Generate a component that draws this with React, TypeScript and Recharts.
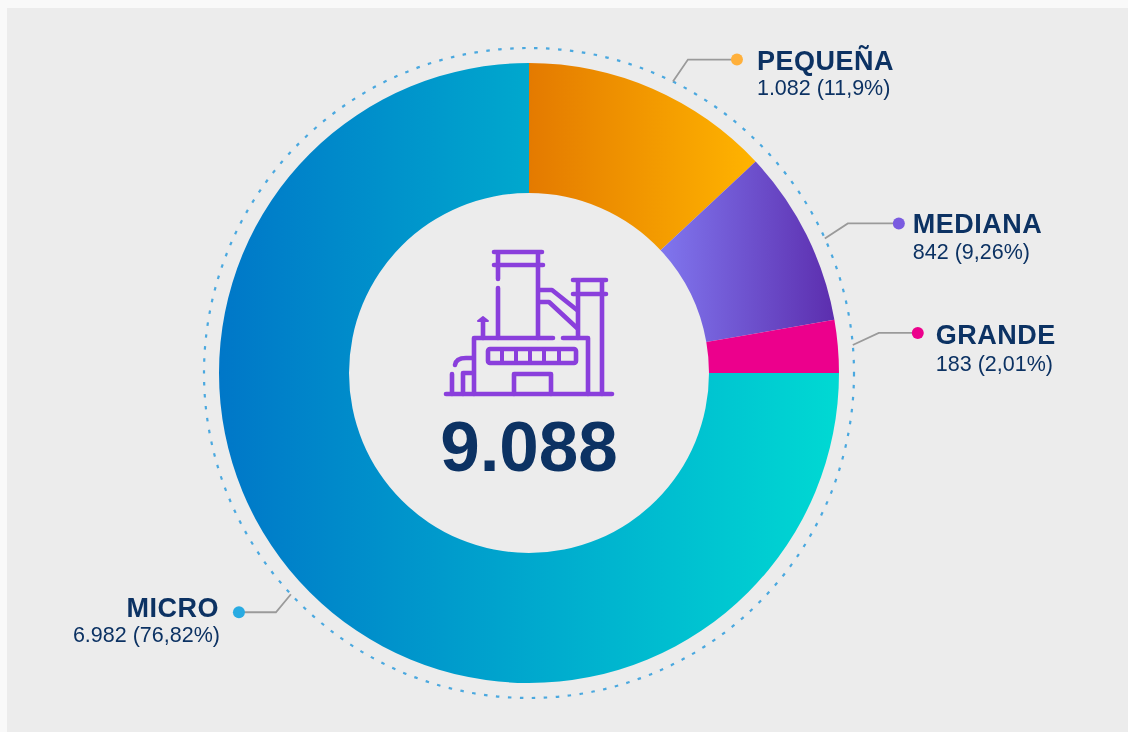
import React from 'react';
import { PieChart, Pie, Cell } from 'recharts';

// order is clockwise from 12 o'clock, as in the picture
const names = ['PEQUEÑA', 'MEDIANA', 'GRANDE', 'MICRO'];
// the label figures
const counts = ['1.082', '842', '183', '6.982'];
const percents = ['11,9%', '9,26%', '2,01%', '76,82%'];
// slice sizes as drawn in the picture (they differ a bit from the printed percentages)
const drawnShares = [13.05, 9.2, 2.75, 75];
const total = '9.088';

const data = names.map((name, i) => ({ name, value: drawnShares[i] }));

const NAVY = '#0c3263';
const PURPLE = '#8a3fdc';
const gradients = [
  ['#e47a00', '#ffb400'],
  ['#8076ee', '#5c2eae'],
  ['#ec008c', '#ec008c'],
  ['#0077c8', '#00d9d3'],
];
const dotColors = ['#ffb03b', '#7a5be0', '#ec008c', '#29abe2'];

const CX = 529;
const CY = 373;
const RING_R = 325;

// nudge: degrees clockwise off the slice's mid angle, ex/ey: elbow offset, run: line to the dot
// tx: text offset from the dot, t1/t2: baselines of the two text rows below the dot
const leaders = [
  { nudge: 2.8, ex: 15, ey: -22, run: 49, tx: 20, t1: 10.5, t2: 35 },
  { nudge: 2, ex: 23, ey: -15, run: 51, tx: 14, t1: 10, t2: 36 },
  { nudge: 0, ex: 26, ey: -12, run: 39, tx: 18, t1: 11, t2: 38 },
  { nudge: 2.1, ex: -15, ey: 18, run: -37, tx: -20, t1: 5, t2: 30 },
];

const renderLabel = (props: any) => {
  const { midAngle, index } = props;
  const l = leaders[index];
  const rad = ((midAngle - l.nudge) * Math.PI) / 180;
  const ax = CX + RING_R * Math.cos(rad);
  const ay = CY - RING_R * Math.sin(rad);
  const ex = ax + l.ex;
  const ey = ay + l.ey;
  const dx = ex + l.run;
  const right = l.run > 0;
  const anchor = right ? 'start' : 'end';
  const tx = dx + l.tx;
  return (
    <g key={names[index]}>
      <polyline points={`${ax},${ay} ${ex},${ey} ${dx},${ey}`} fill="none" stroke="#9a9a9a" strokeWidth={1.8} />
      <circle cx={dx} cy={ey} r={6} fill={dotColors[index]} />
      <text x={tx} y={ey + l.t1} textAnchor={anchor} fontSize={27} letterSpacing={0.5} fontWeight={700} fill={NAVY} fontFamily="Liberation Sans">
        {names[index]}
      </text>
      <text x={right ? tx : tx + 1} y={ey + l.t2} textAnchor={anchor} fontSize={21.5} fill={NAVY} fontFamily="Liberation Sans">
        {`${counts[index]} (${percents[index]})`}
      </text>
    </g>
  );
};

const FactoryIcon = () => (
  <g fill="none" stroke={PURPLE} strokeWidth={4.6} strokeLinecap="round" strokeLinejoin="round">
    <path d="M446 394H612" />
    {/* building */}
    <path d="M474 394V338H553M563 338H588V394" />
    <rect x={488} y={349} width={88} height={14} rx={2} />
    <path d="M502 349V363M516 349V363M530 349V363M544 349V363M559 349V363" strokeWidth={4} />
    <path d="M514 394V374H551V394" />
    {/* tall stack */}
    <path d="M494 252H542M494 265H543M498 252V279M498 288V338M538 252V338" />
    {/* short stack */}
    <path d="M573 280H606M573 294H606M578 280V338M602 280V394" />
    {/* pipes */}
    <path d="M540 290H552L577 310M540 302H549L577 328" />
    <path d="M483 338V320" />
    <path d="M478 321L483 317L488 321Z" fill={PURPLE} strokeWidth={2} />
    <path d="M452 374V394M472 358H466Q456 358 455 365M472 373H463V394" />
  </g>
);

export default function App() {
  return (
    <div style={{ position: 'absolute', left: 0, top: 0, width: 1128, height: 732, background: '#f9f9f9', overflow: 'hidden' }}>
      <div style={{ position: 'absolute', left: 7, top: 8, right: 0, bottom: 0, background: '#ececec' }} />
      <div style={{ position: 'absolute', left: 0, top: 0, filter: 'blur(0.5px)' }}>
        <PieChart width={1128} height={732} margin={{ top: 0, right: 0, bottom: 0, left: 0 }}>
          <defs>
            {gradients.map((g, i) => (
              <linearGradient key={i} id={`slice-${i}`} x1="0" y1="0" x2="1" y2="0">
                <stop offset="0%" stopColor={g[0]} />
                <stop offset="100%" stopColor={g[1]} />
              </linearGradient>
            ))}
          </defs>
          <circle cx={CX} cy={CY} r={RING_R} fill="none" stroke="#4aa8df" strokeWidth={2.2} strokeDasharray="3.5 8.5" />
          <Pie
            data={data}
            dataKey="value"
            nameKey="name"
            cx={CX}
            cy={CY}
            innerRadius={180}
            outerRadius={310}
            startAngle={90}
            endAngle={-270}
            paddingAngle={0}
            stroke="none"
            label={renderLabel}
            labelLine={false}
            isAnimationActive={false}
          >
            {data.map((_, i) => (
              <Cell key={i} fill={`url(#slice-${i})`} />
            ))}
          </Pie>
          <FactoryIcon />
          <text x={CX} y={471} textAnchor="middle" fontSize={71} fontWeight={700} fill={NAVY} fontFamily="Liberation Sans">
            {total}
          </text>
        </PieChart>
      </div>
    </div>
  );
}
